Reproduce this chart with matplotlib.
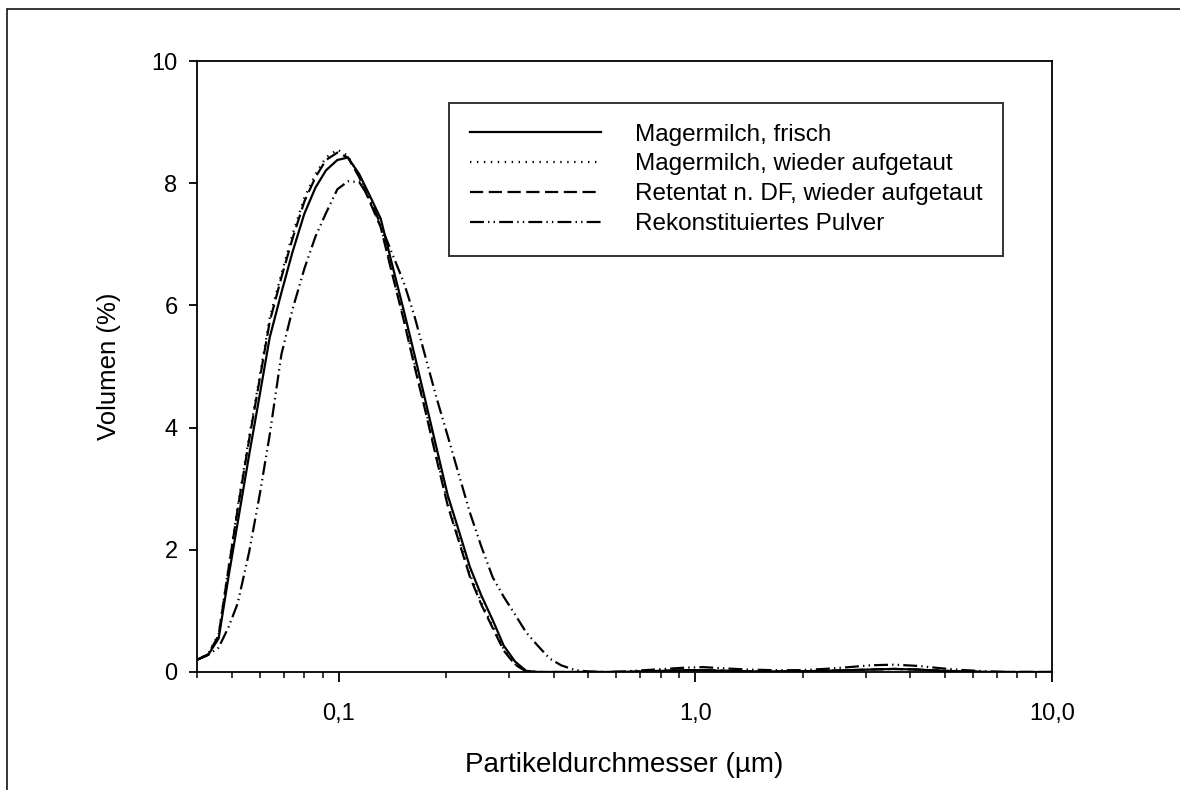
import matplotlib
matplotlib.use("Agg")
import matplotlib.pyplot as plt
from matplotlib.lines import Line2D
from matplotlib.ticker import FixedLocator, LogLocator, NullFormatter

plt.rcParams["font.family"] = ["Liberation Sans", "DejaVu Sans"]
plt.rcParams["lines.scale_dashes"] = False

# particle diameter classes (µm)
diameter = [0.040, 0.043, 0.046, 0.049, 0.052, 0.056, 0.060, 0.064, 0.069, 0.074,
            0.080, 0.086, 0.092, 0.099, 0.106, 0.114, 0.122, 0.131, 0.141, 0.152,
            0.163, 0.175, 0.188, 0.202, 0.217, 0.233, 0.251, 0.270, 0.290, 0.312,
            0.335, 0.36, 0.39, 0.42, 0.46, 0.50, 0.56, 0.63, 0.72, 0.82,
            0.93, 1.05, 1.2, 1.4, 1.65, 1.95, 2.3, 2.7, 3.1, 3.6,
            4.2, 4.9, 5.7, 6.6, 7.7, 10.0]

# volume fractions (%)
frisch = [0.20, 0.28, 0.55, 1.55, 2.44, 3.55, 4.54, 5.48, 6.21, 6.86,
          7.50, 7.93, 8.21, 8.38, 8.42, 8.15, 7.80, 7.42, 6.67, 5.92,
          5.19, 4.43, 3.66, 2.89, 2.31, 1.72, 1.25, 0.85, 0.43, 0.17,
          0.02, 0.0, 0.0, 0.0, 0.0, 0.0, 0.0, 0.0, 0.01, 0.02,
          0.03, 0.03, 0.02, 0.01, 0.01, 0.01, 0.02, 0.03, 0.04, 0.05,
          0.04, 0.02, 0.01, 0.0, 0.0, 0.0]

aufgetaut = [0.20, 0.30, 0.62, 1.70, 2.70, 3.85, 4.85, 5.80, 6.52, 7.15,
             7.76, 8.15, 8.42, 8.55, 8.45, 8.12, 7.72, 7.30, 6.55, 5.80,
             5.05, 4.30, 3.52, 2.76, 2.18, 1.60, 1.14, 0.75, 0.37, 0.13,
             0.01, 0.0, 0.0, 0.0, 0.0, 0.0, 0.0, 0.0, 0.01, 0.02,
             0.03, 0.03, 0.02, 0.01, 0.01, 0.01, 0.02, 0.03, 0.04, 0.05,
             0.04, 0.02, 0.01, 0.0, 0.0, 0.0]

retentat = [0.20, 0.29, 0.60, 1.68, 2.66, 3.80, 4.80, 5.74, 6.46, 7.08,
            7.70, 8.10, 8.38, 8.50, 8.42, 8.10, 7.70, 7.28, 6.52, 5.76,
            5.00, 4.26, 3.48, 2.72, 2.14, 1.56, 1.10, 0.72, 0.35, 0.12,
            0.01, 0.0, 0.0, 0.0, 0.0, 0.0, 0.0, 0.0, 0.01, 0.02,
            0.03, 0.03, 0.02, 0.01, 0.01, 0.01, 0.02, 0.03, 0.04, 0.05,
            0.04, 0.02, 0.01, 0.0, 0.0, 0.0]

pulver = [0.20, 0.28, 0.40, 0.73, 1.12, 1.96, 2.91, 3.89, 5.20, 5.92,
          6.60, 7.13, 7.51, 7.90, 8.03, 8.02, 7.75, 7.32, 6.85, 6.38,
          5.82, 5.15, 4.48, 3.86, 3.23, 2.61, 2.05, 1.55, 1.23, 0.94,
          0.65, 0.44, 0.22, 0.11, 0.03, 0.01, 0.0, 0.01, 0.03, 0.05,
          0.07, 0.08, 0.06, 0.04, 0.03, 0.03, 0.05, 0.08, 0.11, 0.12,
          0.10, 0.06, 0.03, 0.01, 0.0, 0.0]

labels = ["Magermilch, frisch",
          "Magermilch, wieder aufgetaut",
          "Retentat n. DF, wieder aufgetaut",
          "Rekonstituiertes Pulver"]
x_ticks = [0.1, 1.0, 10.0]
x_ticklabels = ["0,1", "1,0", "10,0"]
y_ticks = [0, 2, 4, 6, 8, 10]

fig = plt.figure(figsize=(11.8, 7.9), dpi=100)
ax = fig.add_axes([197 / 1180, 1 - 672 / 790, (1052 - 197) / 1180, (672 - 61) / 790])

lw = 1.6
ax.plot(diameter, frisch, color="black", lw=lw, linestyle="-", label=labels[0])
ax.plot(diameter, aufgetaut, color="black", lw=lw, linestyle=(0, (1.0, 4.0)), label=labels[1])
ax.plot(diameter, retentat, color="black", lw=lw, linestyle=(0, (9.5, 4.0)), label=labels[2])
ax.plot(diameter, pulver, color="black", lw=lw, linestyle=(0, (10, 3, 1, 3, 1, 3)), label=labels[3])

ax.set_xscale("log")
ax.set_xlim(0.04, 10.0)
ax.set_ylim(0, 10)

ax.xaxis.set_major_locator(FixedLocator(x_ticks))
ax.set_xticklabels(x_ticklabels)
ax.xaxis.set_minor_locator(LogLocator(base=10, subs=range(2, 10)))
ax.xaxis.set_minor_formatter(NullFormatter())
ax.set_yticks(y_ticks)
ax.set_yticklabels([str(v) for v in y_ticks])

for side in ax.spines.values():
    side.set_linewidth(1.3)
ax.tick_params(axis="both", which="major", direction="out", width=1.3, labelsize=17)
ax.tick_params(axis="x", which="major", length=7, pad=15)
ax.tick_params(axis="y", which="major", length=6, pad=8)
ax.tick_params(axis="x", which="minor", direction="out", length=4, width=1.1)

ax.set_xlabel("Partikeldurchmesser (µm)", fontsize=20, labelpad=20)
ax.set_ylabel("Volumen (%)", fontsize=18.5, labelpad=22)

leg = ax.legend(loc="upper left", bbox_to_anchor=(449 / 1180, 1 - 103 / 790),
                bbox_transform=fig.transFigure, fontsize=17.5, frameon=True,
                fancybox=False, edgecolor="black", handlelength=5.4,
                handletextpad=1.4, labelspacing=0.32, borderpad=0.85,
                borderaxespad=0.0)
leg.get_frame().set_linewidth(1.4)

# outer frame lines along the top and left edge
fig.add_artist(Line2D([8 / 1180, 1.0], [1 - 9 / 790, 1 - 9 / 790],
                      transform=fig.transFigure, color="black", lw=1.1))
fig.add_artist(Line2D([7 / 1180, 7 / 1180], [1 - 9 / 790, 0.0],
                      transform=fig.transFigure, color="black", lw=1.1))

fig.savefig("out.png", dpi=100)
